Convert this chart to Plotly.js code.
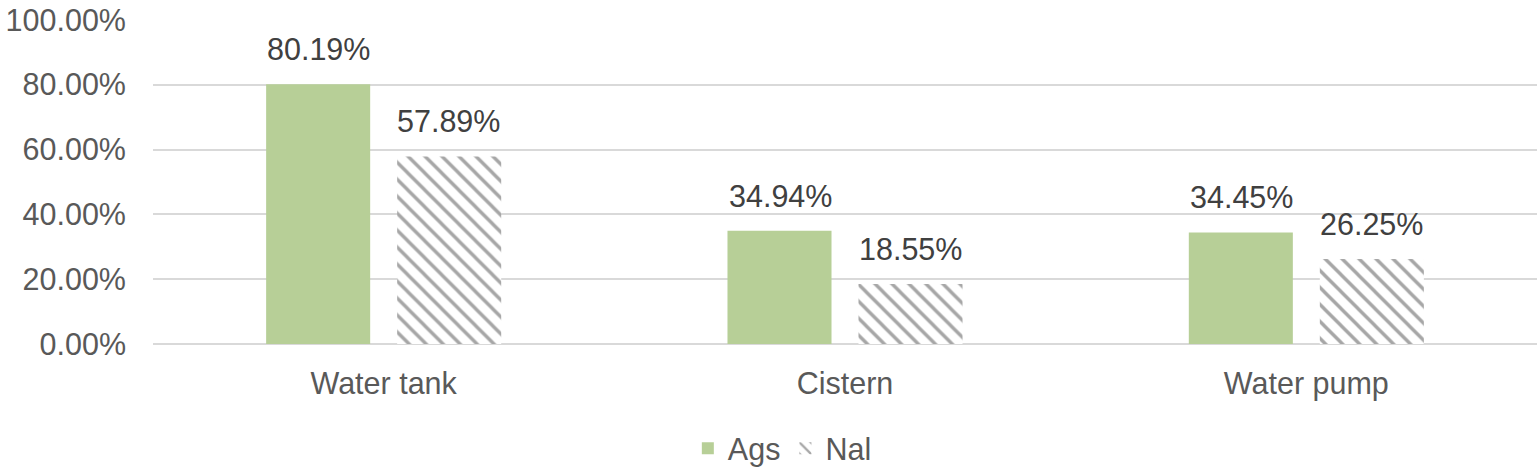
<!DOCTYPE html>
<html>
<head>
<meta charset="utf-8">
<script src="https://cdn.plot.ly/plotly-3.0.1.min.js"></script>
<style>
  html, body { margin: 0; padding: 0; background: #fff; }
  #chart { width: 1537px; height: 475px; }
</style>
</head>
<body>
<div id="chart"></div>
<script>
const categories = ['Water tank', 'Cistern', 'Water pump'];
const agsValues = [0.8019, 0.3494, 0.3445];
const nalValues = [0.5789, 0.1855, 0.2625];
const seriesNames = ['Ags', 'Nal'];

const font = 'Liberation Sans, Arial, sans-serif';

const agsTrace = {
    x: categories,
    y: agsValues,
    type: 'bar',
    name: seriesNames[0],
    marker: { color: '#b7cf97' },
    hoverinfo: 'skip'
};

const nalTrace = {
    x: categories,
    y: nalValues,
    type: 'bar',
    name: seriesNames[1],
    marker: {
        color: '#ffffff',
        pattern: { shape: '\\', fgcolor: '#a6a6a6', bgcolor: '#ffffff', size: 12, solidity: 0.28 }
    },
    hoverinfo: 'skip'
};

// data labels above each bar
const annotations = [];
categories.forEach((c, i) => {
    [[agsValues, -65], [nalValues, 65]].forEach(([vals, dx]) => {
        annotations.push({
            x: c, y: vals[i], xref: 'x', yref: 'y',
            text: (vals[i] * 100).toFixed(2) + '%',
            showarrow: false, xshift: dx, yanchor: 'bottom', yshift: 16,
            font: { family: font, size: 30.5, color: '#404040' }
        });
    });
});

const layout = {
    width: 1537,
    height: 475,
    margin: { l: 153, r: 0, t: 20, b: 131, autoexpand: false },
    paper_bgcolor: '#ffffff',
    plot_bgcolor: '#ffffff',
    barmode: 'group',
    bargap: 0.432,
    bargroupgap: 0.206,
    font: { family: font, size: 30.5, color: '#595959' },
    xaxis: {
        showgrid: false,
        showline: false,
        zeroline: false,
        ticks: '',
        ticklabelstandoff: 18,
        tickfont: { size: 30.5, color: '#595959' }
    },
    yaxis: {
        range: [0, 1],
        dtick: 0.2,
        tickformat: '.2%',
        gridcolor: '#d9d9d9',
        gridwidth: 2,
        zeroline: true,
        zerolinecolor: '#d9d9d9',
        zerolinewidth: 2,
        showline: false,
        ticklabelstandoff: 26,
        tickfont: { size: 30.5, color: '#595959' }
    },
    showlegend: true,
    legend: {
        orientation: 'h',
        xref: 'container', yref: 'container',
        x: 0.509, xanchor: 'center',
        y: -0.012, yanchor: 'bottom',
        font: { size: 30.5, color: '#595959' },
        itemwidth: 30
    },
    annotations: annotations
};

Plotly.newPlot('chart', [agsTrace, nalTrace], layout, { displayModeBar: false, staticPlot: true });
</script>
</body>
</html>
